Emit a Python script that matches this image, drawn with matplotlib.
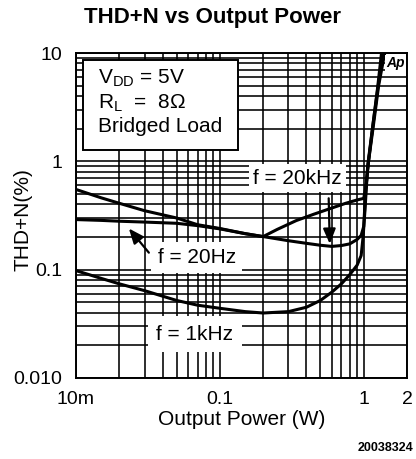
import matplotlib
matplotlib.use("Agg")
import matplotlib.pyplot as plt
from matplotlib.patches import Rectangle
from matplotlib.ticker import FixedLocator, LogLocator, NullFormatter
import numpy as np

plt.rcParams['font.family'] = ['Liberation Sans', 'DejaVu Sans']
plt.rcParams['mathtext.fontset'] = 'custom'
plt.rcParams['mathtext.rm'] = 'Liberation Sans'

# curve: upper start at 10m, dips near 0.6W
power_a = [0.01, 0.015, 0.02, 0.03, 0.05, 0.07, 0.1, 0.15, 0.2, 0.3, 0.4, 0.5, 0.6,
           0.7, 0.8, 0.9, 0.96, 1.0, 1.03, 1.07, 1.15, 1.25, 1.36]
thd_a = [0.55, 0.46, 0.41, 0.35, 0.30, 0.26, 0.24, 0.215, 0.202, 0.185, 0.175, 0.168, 0.164,
         0.167, 0.173, 0.19, 0.207, 0.25, 0.5, 0.95, 2.0, 4.6, 10.0]

# flat start, rises to ~0.45 at 1W
power_b = [0.01, 0.015, 0.02, 0.03, 0.05, 0.07, 0.1, 0.15, 0.2, 0.25, 0.34, 0.45, 0.58,
           0.75, 0.9, 1.0, 1.04, 1.08, 1.16, 1.27, 1.4]
thd_b = [0.29, 0.285, 0.28, 0.275, 0.268, 0.255, 0.238, 0.215, 0.202, 0.235, 0.284, 0.325, 0.365,
         0.41, 0.44, 0.455, 0.6, 1.0, 2.0, 5.0, 10.0]

# f = 1kHz
power_c = [0.01, 0.015, 0.02, 0.03, 0.05, 0.07, 0.1, 0.15, 0.2, 0.3, 0.4, 0.5, 0.6,
           0.7, 0.8, 0.9, 0.96, 0.99, 1.02, 1.06, 1.15, 1.25, 1.33]
thd_c = [0.098, 0.083, 0.074, 0.064, 0.052, 0.047, 0.044, 0.041, 0.0398, 0.041, 0.045, 0.052, 0.062,
         0.074, 0.09, 0.11, 0.135, 0.2, 0.35, 0.8, 2.0, 4.8, 10.0]

x_ticks = [0.01, 0.1, 1, 2]
x_tick_labels = ["10m", "0.1", "1", "2"]
y_ticks = [0.01, 0.1, 1, 10]
y_tick_labels = ["0.010", "0.1", "1", "10"]

fig = plt.figure(figsize=(4.16, 4.59), dpi=100)
ax = fig.add_axes([76 / 416, 1 - 378 / 459, 331 / 416, 325 / 459])

ax.set_xscale('log')
ax.set_yscale('log')
ax.set_xlim(0.01, 2)
ax.set_ylim(0.01, 10)

ax.xaxis.set_major_locator(FixedLocator(x_ticks))
ax.set_xticklabels(x_tick_labels)
ax.xaxis.set_minor_locator(LogLocator(base=10, subs=np.arange(2, 10)))
ax.xaxis.set_minor_formatter(NullFormatter())
ax.yaxis.set_major_locator(FixedLocator(y_ticks))
ax.set_yticklabels(y_tick_labels)
ax.yaxis.set_minor_locator(LogLocator(base=10, subs=np.arange(2, 10)))
ax.yaxis.set_minor_formatter(NullFormatter())

ax.tick_params(which='both', length=0, labelsize=14)
ax.tick_params(axis='x', pad=9)
ax.tick_params(axis='y', pad=10)
ax.set_axisbelow(True)
ax.grid(which='both', color='black', linewidth=1.15)
for s in ax.spines.values():
    s.set_linewidth(1.4)

for xs, ys in [(power_a, thd_a), (power_b, thd_b), (power_c, thd_c)]:
    ax.plot(xs, ys, color='black', linewidth=2.2, zorder=2)

ax.set_xlabel("Output Power (W)", fontsize=15, labelpad=2)
ax.set_ylabel("THD+N(%)", fontsize=15)
ax.yaxis.set_label_coords(-0.132, 0.486)

# condition box
ax.add_patch(Rectangle((0.021, 0.7015), 0.468, 0.2765, transform=ax.transAxes,
                       facecolor='white', edgecolor='black', linewidth=1.4, zorder=4))
ax.text(0.0665, 0.922, r"V$_{\rm DD}$ = 5V", transform=ax.transAxes, fontsize=15,
        va='center', zorder=5)
ax.text(0.0665, 0.845, r"R$_{\rm L}$  =  8Ω", transform=ax.transAxes, fontsize=15,
        va='center', zorder=5)
ax.text(0.0665, 0.773, "Bridged Load", transform=ax.transAxes, fontsize=15,
        va='center', zorder=5)

# curve labels
ax.text(0.348, 0.70, "f = 20kHz", fontsize=15, ha='center', va='center', zorder=3,
        bbox=dict(boxstyle='square,pad=0.2', facecolor='white', edgecolor='none'))
ax.text(0.069, 0.129, "f = 20Hz", fontsize=15, ha='center', va='center', zorder=3,
        bbox=dict(boxstyle='square,pad=0.3', facecolor='white', edgecolor='none'))
ax.text(0.067, 0.0253, "f = 1kHz", fontsize=15, ha='center', va='center', zorder=3,
        bbox=dict(boxstyle='square,pad=0.4', facecolor='white', edgecolor='none'))

arrow = dict(arrowstyle='-|>,head_length=0.6,head_width=0.25', color='black',
             lw=1.6, mutation_scale=15, shrinkA=0, shrinkB=0)
ax.annotate('', xy=(0.581, 0.173), xytext=(0.571, 0.456), arrowprops=arrow, zorder=3)
ax.annotate('', xy=(0.0233, 0.24), xytext=(0.0321, 0.1435), arrowprops=arrow, zorder=3)

ax.text(0.966, 0.969, "Ap", transform=ax.transAxes, fontsize=10, weight='bold',
        style='italic', ha='center', va='center', zorder=5,
        bbox=dict(boxstyle='square,pad=0.1', facecolor='white', edgecolor='none'))

fig.text(212 / 416, 1 - 18 / 459, "THD+N vs Output Power", fontsize=16, weight='bold',
         ha='center', va='center')
fig.text(385.5 / 416, 1 - 448 / 459, "20038324", fontsize=9, weight='bold',
         ha='center', va='center')

fig.savefig("out.png", dpi=100)
